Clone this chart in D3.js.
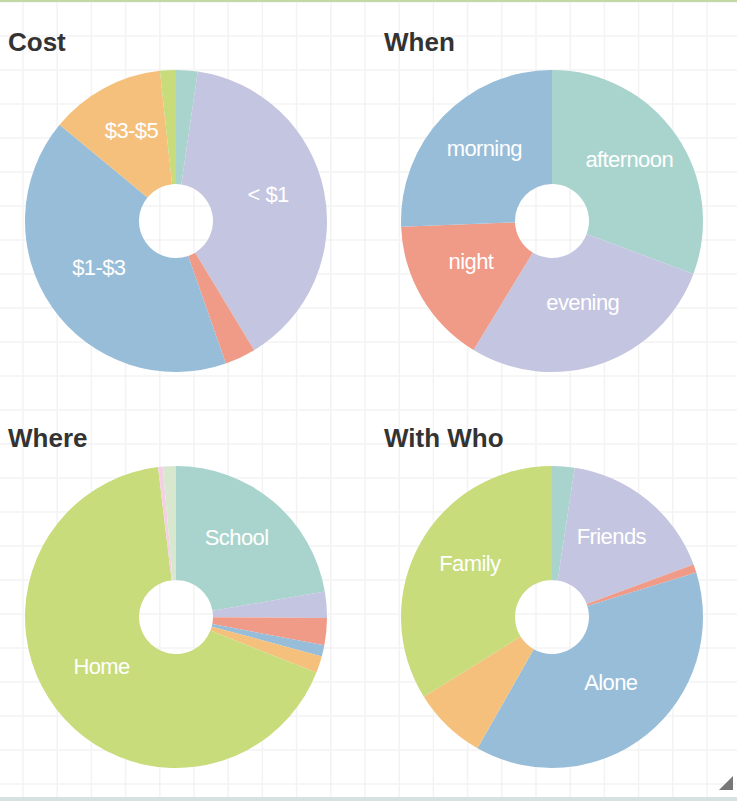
<!DOCTYPE html>
<html>
<head>
<meta charset="utf-8">
<script src="https://cdn.jsdelivr.net/npm/d3@7"></script>
<style>
  body { margin: 0; background: #fff; overflow: hidden; }
</style>
</head>
<body>
<div id="pies"></div>
<script>
// slice values are shares of each answer (%)
var costLabels = ["", "< $1", "", "$1-$3", "$3-$5", ""];
var costValues = [2.3, 39.0, 3.3, 41.3, 12.3, 1.7];

var whenLabels = ["afternoon", "evening", "night", "morning"];
var whenValues = [30.7, 28.0, 15.7, 25.6];

var whereLabels = ["School", "", "", "", "", "Home", "", ""];
var whereValues = [22.3, 2.8, 2.9, 1.2, 1.8, 67.1, 0.5, 1.4];

var whoLabels = ["", "Friends", "", "Alone", "", "Family"];
var whoValues = [2.4, 16.9, 0.9, 37.9, 7.9, 33.8];

var titles = ["Cost", "When", "Where", "With Who"];

var svg_width = 737;
var svg_height = 801;

var colors = ["#a9d4cd", "#c4c5e0", "#f09a88", "#98bdd8", "#f4c07c", "#c8dc7c", "#f5d0e5", "#d7e8cf"];

var svg = d3.select("#pies")
    .append("svg")
    .attr("width", svg_width)
    .attr("height", svg_height);

// faint background grid
var grid = svg.append("g").attr("stroke", "#f3f3f3").attr("stroke-width", 1.5);
grid.selectAll(".v")
    .data(d3.range(23, svg_width, 34.2))
    .enter().append("line")
    .attr("x1", d => d).attr("x2", d => d)
    .attr("y1", 0).attr("y2", svg_height);
grid.selectAll(".h")
    .data(d3.range(2, svg_height, 34))
    .enter().append("line")
    .attr("y1", d => d).attr("y2", d => d)
    .attr("x1", 0).attr("x2", svg_width);

// frame bits
svg.append("rect").attr("x", 0).attr("y", 0).attr("width", svg_width).attr("height", 2).attr("fill", "#c2d9a6");
svg.append("rect").attr("x", 0).attr("y", 797).attr("width", svg_width).attr("height", 4).attr("fill", "#d6e2e2");
svg.append("path").attr("d", "M733,776 L733,790 L719,790 Z").attr("fill", "#777");

var charts = [
    {labels: costLabels, values: costValues, cx: 176, cy: 221},
    {labels: whenLabels, values: whenValues, cx: 552, cy: 221},
    {labels: whereLabels, values: whereValues, cx: 176, cy: 617},
    {labels: whoLabels, values: whoValues, cx: 552, cy: 617}
];

var pie = d3.pie().sort(null).value(d => d.value);
var arc = d3.arc().innerRadius(37).outerRadius(151);

charts.forEach(function(c, i) {
    var data = c.values.map(function(v, j) {
        return {label: c.labels[j], value: v, idx: j};
    });

    svg.append("text")
        .attr("x", c.cx - 168)
        .attr("y", c.cy - 170)
        .text(titles[i])
        .style("font-family", "'Liberation Sans', Arial, sans-serif")
        .style("font-weight", "bold")
        .style("font-size", "26px")
        .style("fill", "#333");

    var g = svg.append("g")
        .attr("transform", `translate(${c.cx}, ${c.cy})`);

    g.selectAll("path")
        .data(pie(data))
        .enter()
        .append("path")
        .attr("d", arc)
        .attr("fill", d => colors[d.data.idx]);

    g.selectAll("text")
        .data(pie(data).filter(d => d.data.label))
        .enter()
        .append("text")
        .attr("transform", d => `translate(${arc.centroid(d)})`)
        .attr("text-anchor", "middle")
        .text(d => d.data.label)
        .style("font-family", "'Liberation Sans', Arial, sans-serif")
        .style("font-size", "22px")
        .style("letter-spacing", "-0.6px")
        .style("fill", "white");
});
</script>
</body>
</html>
